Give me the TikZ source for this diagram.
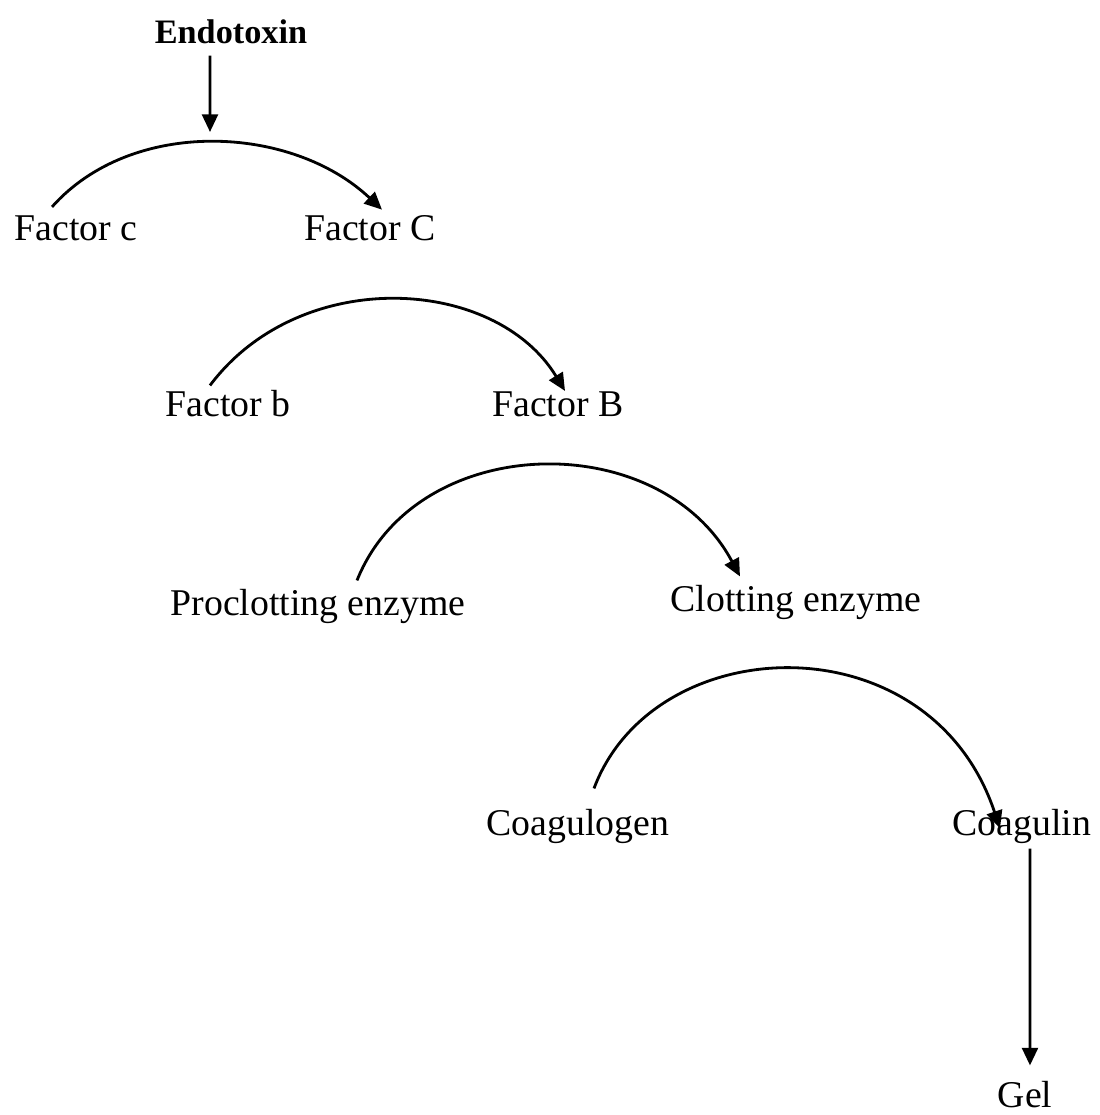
\documentclass[tikz,border=0pt]{standalone}
\usepackage{fontspec}
\setmainfont{Liberation Serif}
\usetikzlibrary{arrows.meta}

\begin{document}
\begin{tikzpicture}[scale=0.2]
    \tikzstyle{every node}+=[inner sep=0pt, anchor=base, font=\fontsize{21.5}{24}\selectfont]
    \tikzstyle{cleave}=[black, line width=1.6pt, -{Triangle[length=10pt,width=9pt]}]
    \useasboundingbox (0,0) rectangle (110,-111.5);
    \draw (23.1,-4.3) node (endo) {\fontsize{19.5}{22}\selectfont\bfseries Endotoxin};
    \draw (7.6,-24.0) node (fc) {Factor c};
    \draw (37.0,-24.0) node (fC) {Factor C};
    \draw (22.8,-41.6) node (fb) {Factor b};
    \draw (55.8,-41.6) node (fB) {Factor B};
    \draw (31.8,-61.5) node (pce) {Proclotting enzyme};
    \draw (79.6,-61.1) node (ce) {Clotting enzyme};
    \draw (57.8,-83.5) node (cg) {Coagulogen};
    \draw (102.2,-83.5) node (cl) {Coagulin};
    \draw (102.5,-110.7) node (gel) {Gel};
    \coordinate (hit) at (21.0,-13.2);
    \draw [cleave] ([xshift=-2.1cm,yshift=-1.2cm]endo.south) -- (hit);
    \draw [cleave] ([xshift=-2.4cm,yshift=0.8cm]fc.north) .. controls +(8,9) and +(-9,8.5) .. ([xshift=1.2cm,yshift=0.5cm]fC.north);
    \draw [cleave] ([xshift=-1.8cm,yshift=0.4cm]fb.north) .. controls +(9,12) and +(-7,11.5) .. ([xshift=0.7cm]fB.north);
    \draw [cleave] ([xshift=3.9cm,yshift=0.8cm]pce.north) .. controls +(6,15) and +(-8,15) .. ([xshift=-5.6cm,yshift=0.8cm]ce.north);
    \draw [cleave] ([xshift=1.6cm,yshift=2cm]cg.north) .. controls +(6,16) and +(-7,21) .. ([xshift=-2.2cm,yshift=-2cm]cl.north);
    \draw [cleave] ([xshift=0.8cm,yshift=-0.5cm]cl.south) -- ([xshift=0.5cm,yshift=1.5cm]gel.north);
\end{tikzpicture}
\end{document}
